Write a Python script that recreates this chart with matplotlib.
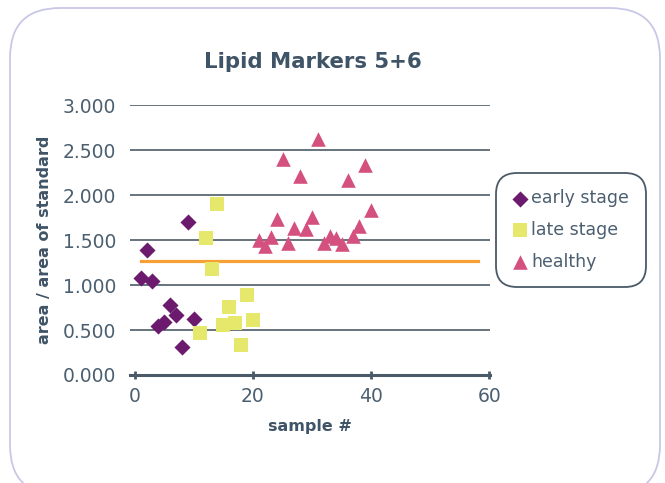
import matplotlib
matplotlib.use("Agg")
import matplotlib.pyplot as plt
from matplotlib.patches import FancyBboxPatch

# sample numbers and measured area ratios
early_x = [1, 2, 3, 4, 5, 6, 7, 8, 9, 10]
early_y = [1.08, 1.39, 1.045, 0.543, 0.591, 0.779, 0.663, 0.307, 1.704, 0.621]

late_x = [11, 12, 13, 14, 15, 16, 17, 18, 19, 20]
late_y = [0.472, 1.517, 1.18, 1.898, 0.554, 0.753, 0.576, 0.337, 0.888, 0.607]

healthy_x = list(range(21, 41))
healthy_y = [1.505, 1.43, 1.536, 1.73, 2.404, 1.464, 1.629, 2.209, 1.621, 1.753,
             2.621, 1.464, 1.543, 1.524, 1.453, 2.164, 1.539, 1.651, 2.333, 1.835]

cutoff_x = [1, 58]
cutoff_y = [1.27, 1.27]

y_ticks = [0.0, 0.5, 1.0, 1.5, 2.0, 2.5, 3.0]
x_ticks = [0, 20, 40, 60]

text_col = '#3f5466'
tick_col = '#4b5f70'
grid_col = '#3d4d5a'

plt.rcParams['font.family'] = ['DejaVu Sans']

fig = plt.figure(figsize=(6.65, 4.83), dpi=100)

# rounded outer frame
frame = FancyBboxPatch((0.10, -0.12), 6.50, 4.87,
                       boxstyle='round,pad=0,rounding_size=0.5',
                       transform=fig.dpi_scale_trans,
                       facecolor='none', edgecolor='#c8c8e6', linewidth=1.3,
                       zorder=-10)
fig.patches.append(frame)

ax = fig.add_axes([130 / 665, 1 - 375 / 483, 360 / 665, 270 / 483])
ax.set_facecolor('none')

for yv in y_ticks[1:]:
    ax.axhline(yv, color=grid_col, lw=1.1, zorder=1)

ax.plot(cutoff_x, cutoff_y, color='#f7a035', lw=2.3, zorder=2)

ax.scatter(early_x, early_y, marker='D', s=8.2 ** 2, color='#6b1a6e',
           linewidths=0, zorder=3, label='early stage', clip_on=False)
ax.scatter(late_x, late_y, marker='s', s=10.6 ** 2, color='#e6e86b',
           linewidths=0, zorder=3, label='late stage', clip_on=False)
ax.scatter(healthy_x, healthy_y, marker='^', s=10.5 ** 2, color='#d4507f',
           linewidths=0, zorder=3, label='healthy', clip_on=False)

ax.set_xlim(-0.8, 60.1)
ax.set_ylim(0, 3.0)
ax.set_xticks(x_ticks)
ax.set_yticks(y_ticks)
ax.set_yticklabels([f'{v:.3f}' for v in y_ticks])

for s in ['top', 'right', 'left']:
    ax.spines[s].set_visible(False)
ax.spines['bottom'].set_color('#4a5a68')
ax.spines['bottom'].set_linewidth(2.2)

ax.tick_params(axis='x', direction='inout', length=6, width=2, color='#4a5a68',
               labelsize=13.5, labelcolor=tick_col, pad=6)
ax.tick_params(axis='y', length=0, labelsize=13.5, labelcolor=tick_col, pad=10)

ax.set_xlabel('sample #', fontsize=11.5, fontweight='bold', color=text_col, labelpad=9)
ax.set_ylabel('area / area of standard', fontsize=11.5, fontweight='bold',
              color=text_col, labelpad=8)

fig.text(313 / 665, 1 - 62 / 483, 'Lipid Markers 5+6', ha='center', va='center',
         fontsize=15.3, fontweight='bold', color=text_col)

leg = ax.legend(loc='center', bbox_to_anchor=(571 / 665, 1 - 230 / 483),
                bbox_transform=fig.transFigure, fontsize=12.5, frameon=True,
                fancybox=True, handlelength=0.8, handletextpad=0.25,
                labelspacing=0.78, borderpad=0.5, scatterpoints=1)
frm = leg.get_frame()
frm.set_boxstyle('round,pad=0.45,rounding_size=1.2')
frm.set_edgecolor('#4a5a68')
frm.set_linewidth(1.3)
frm.set_alpha(1)
for t in leg.get_texts():
    t.set_color(tick_col)

fig.savefig('out.png', dpi=100)
